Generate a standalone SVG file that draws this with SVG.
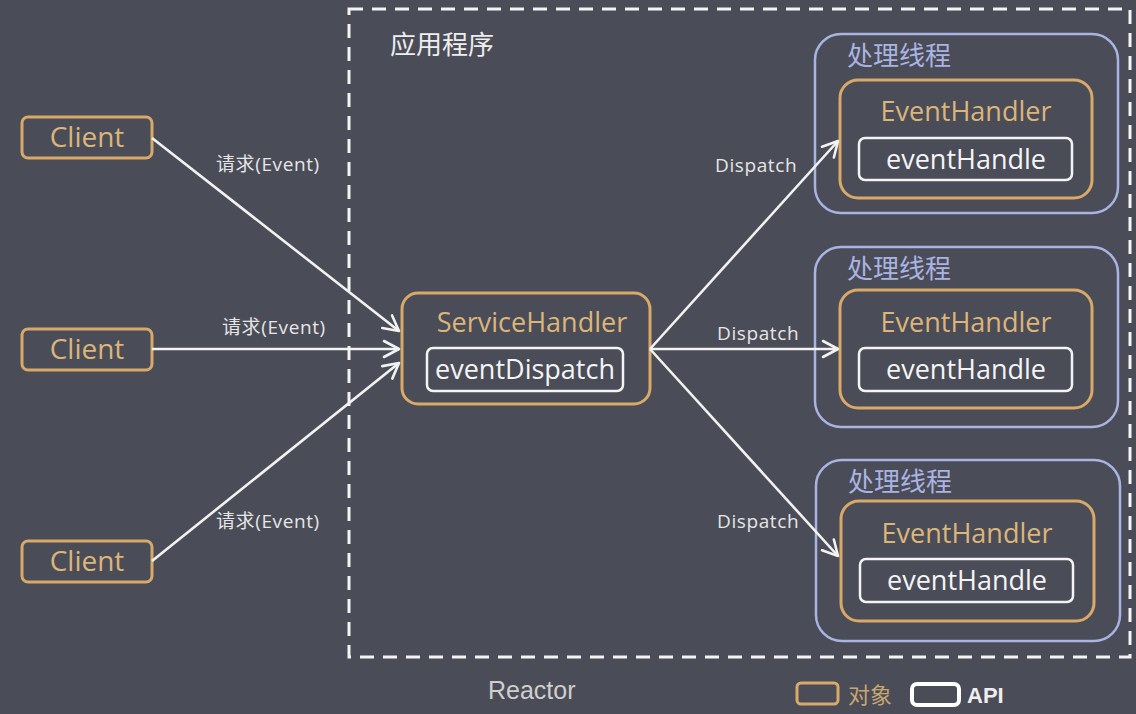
<svg xmlns="http://www.w3.org/2000/svg" width="1136" height="714" viewBox="0 0 1136 714">
<defs>
<marker id="arr" viewBox="0 0 20 20" refX="18" refY="10" markerWidth="20" markerHeight="20" markerUnits="userSpaceOnUse" orient="auto">
<path d="M3,2 L18,10 L3,18" fill="none" stroke="#f2f2f2" stroke-width="2.6" stroke-linecap="round" stroke-linejoin="round"/>
</marker>
</defs>
<style>
.obj{fill:none;stroke:#d8a968;stroke-width:3}
.api{fill:none;stroke:#f4f4f4;stroke-width:2.5}
.thr{fill:none;stroke:#aab4e2;stroke-width:2.5}
.otx{font-family:"Open Sans","Noto Sans",sans-serif;fill:#dcb57a;font-size:27px;text-anchor:middle}
.atx{font-family:"Open Sans","Noto Sans",sans-serif;fill:#f4f4f4;font-size:27px;text-anchor:middle}
.ttx{font-family:"Noto Sans CJK SC",sans-serif;fill:#aab4e2;font-size:26px}
.lbl{font-family:"Open Sans","Noto Sans","Noto Sans CJK SC",sans-serif;fill:#e6e6e6;font-size:19px;letter-spacing:0.6px}
.conn line{stroke:#f2f2f2;stroke-width:2.6;marker-end:url(#arr)}
</style>
<rect width="1136" height="714" fill="#4a4c57"/>
<g id="reactor">
<rect x="349" y="9" width="781" height="648" fill="none" stroke="#f4f4f4" stroke-width="3" stroke-dasharray="14,9"/>
<text x="390" y="54" font-family="Noto Sans CJK SC,sans-serif" font-size="26" fill="#eeeeee">应用程序</text>
<text x="488" y="699" font-family="Liberation Sans,Arial,sans-serif" font-size="25" fill="#cfcfcf">Reactor</text>
</g>
<g id="client1"><rect class="obj" x="22" y="117" width="130" height="41" rx="6"/><text class="otx" x="87" y="147" style="font-size:28px">Client</text></g>
<g id="client2"><rect class="obj" x="22" y="329" width="130" height="41" rx="6"/><text class="otx" x="87" y="359" style="font-size:28px">Client</text></g>
<g id="client3"><rect class="obj" x="22" y="541" width="130" height="41" rx="6"/><text class="otx" x="87" y="571" style="font-size:28px">Client</text></g>
<g id="serviceHandler">
<rect class="obj" x="402" y="293" width="248" height="111" rx="16"/>
<text class="otx" x="532" y="332">ServiceHandler</text>
<rect class="api" x="427" y="348" width="196" height="43" rx="6"/>
<text class="atx" x="525" y="379">eventDispatch</text>
</g>
<g id="thread1">
<rect class="thr" x="815" y="34" width="303" height="179" rx="26"/>
<text class="ttx" x="847" y="65">处理线程</text>
<rect class="obj" x="840" y="80" width="252" height="118" rx="18"/>
<text class="otx" x="966" y="121">EventHandler</text>
<rect class="api" x="859" y="138" width="213" height="42" rx="6"/>
<text class="atx" x="966" y="169">eventHandle</text>
</g>
<g id="thread2">
<rect class="thr" x="815" y="247" width="303" height="180" rx="26"/>
<text class="ttx" x="847" y="278">处理线程</text>
<rect class="obj" x="840" y="290" width="252" height="118" rx="18"/>
<text class="otx" x="966" y="332">EventHandler</text>
<rect class="api" x="859" y="348" width="213" height="43" rx="6"/>
<text class="atx" x="966" y="379">eventHandle</text>
</g>
<g id="thread3">
<rect class="thr" x="816" y="460" width="304" height="181" rx="26"/>
<text class="ttx" x="848" y="491">处理线程</text>
<rect class="obj" x="841" y="501" width="253" height="120" rx="18"/>
<text class="otx" x="967" y="543">EventHandler</text>
<rect class="api" x="860" y="559" width="213" height="43" rx="6"/>
<text class="atx" x="967" y="590">eventHandle</text>
</g>
<g class="conn" id="connectors">
<line x1="152" y1="138" x2="399" y2="331"/>
<line x1="152" y1="349" x2="399" y2="349"/>
<line x1="152" y1="561" x2="399" y2="363"/>
<line x1="650" y1="349" x2="838" y2="141"/>
<line x1="650" y1="349" x2="838" y2="349"/>
<line x1="650" y1="349" x2="838" y2="556"/>
<text class="lbl" x="216" y="171">请求(Event)</text>
<text class="lbl" x="222" y="334">请求(Event)</text>
<text class="lbl" x="216" y="528">请求(Event)</text>
<text class="lbl" x="715" y="172">Dispatch</text>
<text class="lbl" x="717" y="340">Dispatch</text>
<text class="lbl" x="717" y="528">Dispatch</text>
</g>
<g id="legend">
<rect x="797" y="683" width="41" height="21" rx="4" fill="none" stroke="#d8a968" stroke-width="3"/>
<text x="848" y="703" font-family="Noto Sans CJK SC,sans-serif" font-size="22" fill="#c9a670">对象</text>
<rect x="912" y="684" width="47" height="21" rx="5" fill="none" stroke="#ffffff" stroke-width="4"/>
<text x="967" y="703" font-family="Liberation Sans,Arial,sans-serif" font-size="22" font-weight="bold" fill="#eeeeee">API</text>
</g>
</svg>
